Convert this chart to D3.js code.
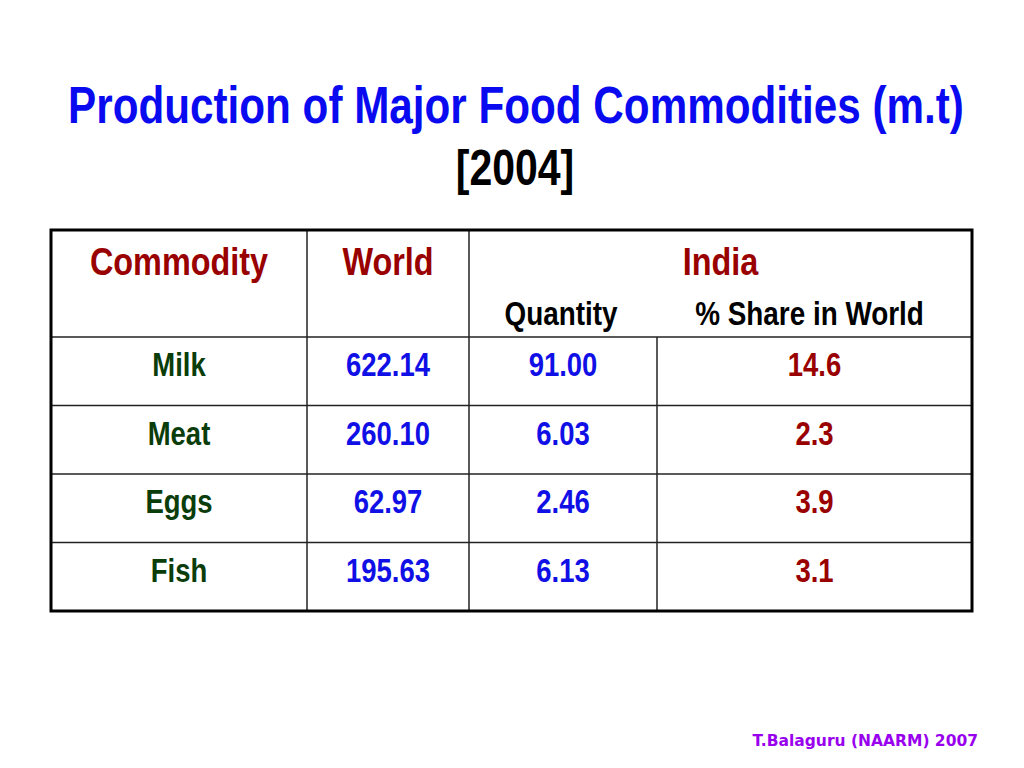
<!DOCTYPE html>
<html>
<head>
<meta charset="utf-8">
<script src="https://cdn.jsdelivr.net/npm/d3@7"></script>
<style>
  html, body { margin: 0; padding: 0; background: #fff; }
  .narrow { font-family: "Liberation Sans", Arial, sans-serif; font-weight: bold; }
</style>
</head>
<body>
<svg id="chart" width="1024" height="768"></svg>
<script>
// table data
const commodities = ['Milk', 'Meat', 'Eggs', 'Fish']
const worldProduction = [622.14, 260.10, 62.97, 195.63]
const indiaQuantity = [91.00, 6.03, 2.46, 6.13]
const indiaShare = [14.6, 2.3, 3.9, 3.1]

const columns = ['commodity', 'world', 'quantity', 'share']

// Arial Narrow look: squeeze Liberation Sans horizontally
const squeeze = 0.82
const place = (px, py) => `translate(${px},${py}) scale(${squeeze},1)`

const svg = d3.select('#chart')

// title
svg.append('text')
  .attr('class', 'narrow')
  .attr('transform', place(516, 123))
  .attr('text-anchor', 'middle')
  .attr('font-size', 51.5)
  .attr('fill', '#0a0af0')
  .text('Production of Major Food Commodities (m.t)')

svg.append('text')
  .attr('class', 'narrow')
  .attr('transform', place(515, 185))
  .attr('text-anchor', 'middle')
  .attr('font-size', 50)
  .attr('fill', '#000')
  .text('[2004]')

// table layout
const tLeft = 51, tRight = 972, tTop = 230, headBottom = 337, tBottom = 611

// column edges
const colEdges = [tLeft, 307, 469, 657, tRight]
const x = d3.scaleOrdinal().domain(columns).range(colEdges.slice(0, 4))
const colWidth = (c) => colEdges[columns.indexOf(c) + 1] - x(c)
const colCenter = (c) => x(c) + colWidth(c) / 2

// rows
const y = d3.scaleBand().domain(commodities).range([headBottom, tBottom])

const g = svg.append('g')

// inner horizontal lines
g.selectAll('line.row')
  .data(commodities)
  .enter()
  .append('line')
  .attr('class', 'row')
  .attr('x1', tLeft).attr('x2', tRight)
  .attr('y1', (d) => y(d)).attr('y2', (d) => y(d))
  .attr('stroke', '#222')
  .attr('stroke-width', 1.5)

// inner vertical lines
g.selectAll('line.col')
  .data(columns.slice(1))
  .enter()
  .append('line')
  .attr('class', 'col')
  .attr('x1', (d) => x(d)).attr('x2', (d) => x(d))
  .attr('y1', (d) => (d === 'share' ? headBottom : tTop))
  .attr('y2', tBottom)
  .attr('stroke', '#222')
  .attr('stroke-width', 1.5)

// outer border
g.append('rect')
  .attr('x', tLeft).attr('y', tTop)
  .attr('width', tRight - tLeft).attr('height', tBottom - tTop)
  .attr('fill', 'none')
  .attr('stroke', '#000')
  .attr('stroke-width', 3)

// header
const headColor = '#990000'
const header = [
  { text: 'Commodity', x: colCenter('commodity'), y: 275, size: 39.5, color: headColor },
  { text: 'World', x: colCenter('world'), y: 275, size: 39.5, color: headColor },
  { text: 'India', x: (x('quantity') + tRight) / 2, y: 275, size: 39.5, color: headColor },
  { text: 'Quantity', x: colCenter('quantity') - 2, y: 325, size: 34, color: '#000' },
  { text: '% Share in World', x: colCenter('share') - 5, y: 325, size: 34, color: '#000' }
]

g.selectAll('text.head')
  .data(header)
  .enter()
  .append('text')
  .attr('class', 'head narrow')
  .attr('transform', (d) => place(d.x, d.y))
  .attr('text-anchor', 'middle')
  .attr('font-size', (d) => d.size)
  .attr('fill', (d) => d.color)
  .text((d) => d.text)

// body cells
const colColor = { commodity: '#0a3d0a', world: '#1010e6', quantity: '#1010e6', share: '#990000' }
const fmt = { commodity: (v) => v, world: d3.format('.2f'), quantity: d3.format('.2f'), share: d3.format('.1f') }

const rows = commodities.map((c, i) => ({
  commodity: c,
  world: worldProduction[i],
  quantity: indiaQuantity[i],
  share: indiaShare[i]
}))

const rowG = g.selectAll('g.tr')
  .data(rows)
  .enter()
  .append('g')
  .attr('class', 'tr')
  .attr('transform', (d) => `translate(0,${y(d.commodity)})`)

rowG.selectAll('text')
  .data((d) => columns.map((c) => ({ col: c, value: d[c] })))
  .enter()
  .append('text')
  .attr('class', 'narrow')
  .attr('transform', (d) => place(colCenter(d.col), 39))
  .attr('text-anchor', 'middle')
  .attr('font-size', 33.5)
  .attr('fill', (d) => colColor[d.col])
  .text((d) => fmt[d.col](d.value))

// footer
svg.append('text')
  .attr('x', 978).attr('y', 746)
  .attr('text-anchor', 'end')
  .attr('font-family', '"DejaVu Sans", Verdana, sans-serif')
  .attr('font-weight', 'bold')
  .attr('font-size', 15.5)
  .attr('fill', '#9900ee')
  .text('T.Balaguru (NAARM) 2007')
</script>
</body>
</html>
